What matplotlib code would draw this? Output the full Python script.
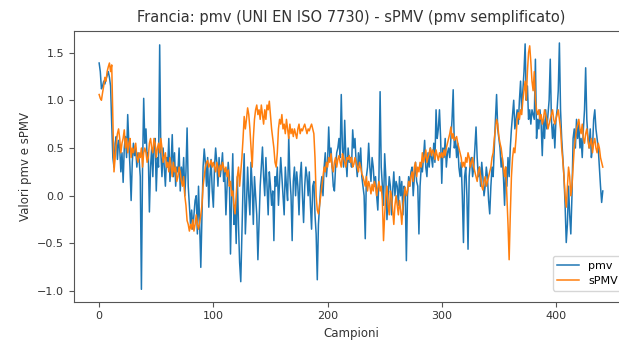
import numpy as np
import matplotlib
matplotlib.use("Agg")
import matplotlib.pyplot as plt

# ------------------------------------------
# Data
# ------------------------------------------
pmv = [
    1.39, 1.3, 1.12, 1.15, 1.2, 1.17, 1.22, 1.26, 1.3, 1.24, 1.15, 0.75, 0.4, 0.3, 0.55, 0.62, 0.38, 0.58, 0.5, 0.25,
    0.45, 0.14, 0.5, 0.62, 0.4, 0.85, 0.55, 0.3, -0.05, 0.35, 0.55, 0.42, 0.5, 0.3, 0.45, 0.38, 0.2, -0.98, 0.3, 1.02,
    0.55, 0.7, 0.4, 0.45, -0.17, 0.3, 0.5, 0.2, 0.55, 0.6, 0.05, 0.4, 0.3, 1.58, 0.45, 0.2, 0.5, 0.3, 0.1, 0.4,
    0.3, 0.6, 0.15, 0.35, 0.64, 0.2, 0.45, 0.1, 0.3, 0.25, 0.5, 0.05, 0.3, 0.15, 0.4, 0.0, 0.25, 0.71, 0.1, -0.1,
    -0.3, -0.15, -0.35, -0.2, -0.05, 0.0, -0.4, 0.1, -0.3, -0.75, -0.2, 0.3, 0.49, 0.35, 0.1, 0.4, -0.12, 0.2, 0.38, 0.05,
    -0.12, 0.3, 0.5, 0.35, 0.1, 0.4, 0.2, 0.3, 0.45, 0.15, 0.25, -0.2, 0.1, 0.35, 0.2, -0.61, 0.0, 0.44, -0.3, -0.1,
    -0.5, 0.2, -0.3, -0.7, -0.9, -0.4, 0.1, 0.44, -0.4, -0.1, 0.3, 0.0, -0.2, 0.35, 0.1, -0.3, 0.2, 0.0, -0.2, -0.67,
    -0.3, 0.1, 0.3, 0.51, 0.2, 0.0, 0.4, 0.1, -0.2, 0.25, 0.1, -0.1, 0.05, -0.47, 0.2, 0.1, 0.3, -0.1, 0.15, 0.4,
    0.2, 0.0, -0.2, 0.3, 0.1, -0.05, 0.62, 0.2, 0.0, -0.47, 0.15, 0.3, 0.0, 0.25, 0.1, -0.2, 0.2, 0.35, 0.0, -0.28,
    0.1, 0.3, 0.2, 0.0, 0.25, -0.1, -0.35, 0.1, 0.15, -0.2, -0.4, -0.88, -0.3, -0.1, 0.1, 0.2, 0.0, 0.3, 0.45, 0.2,
    0.35, 0.72, 0.4, 0.5, 0.3, 0.1, 0.05, 0.3, 0.45, 0.5, 0.6, 0.4, 1.06, 0.5, 0.3, 0.79, 0.4, 0.2, 0.5, 0.35,
    0.4, 0.3, 0.69, 0.5, 0.6, 0.35, 0.2, 0.45, 0.3, 0.5, 0.2, 0.1, 0.0, -0.45, 0.2, 0.3, 0.55, 0.3, 0.15, 0.4,
    0.3, 0.1, 0.2, 0.0, -0.15, 0.2, 1.09, 0.3, 0.1, -0.1, 0.44, 0.2, -0.25, 0.0, 0.2, 0.1, -0.2, 0.05, 0.25, 0.0,
    0.15, 0.1, -0.1, 0.2, 0.0, 0.15, -0.2, 0.1, 0.05, -0.68, 0.0, 0.2, 0.1, 0.25, 0.3, 0.0, 0.2, 0.35, 0.15, 0.1,
    -0.4, 0.1, 0.3, 0.25, 0.4, 0.58, 0.3, 0.2, 0.45, 0.3, 0.5, 0.4, 0.3, 0.55, 0.35, 0.9, 0.6, 0.7, 0.9, 0.6,
    0.13, 0.5, 0.4, 0.6, 0.3, 0.45, 0.5, 0.4, 0.6, 0.8, 1.11, 0.5, 0.6, 0.4, 0.55, 0.3, 0.2, 0.35, 0.0, -0.49,
    0.2, 0.3, 0.0, -0.56, 0.2, 0.35, 0.4, 0.2, 0.3, 0.5, 0.72, 0.4, 0.2, 0.3, 0.1, 0.35, 0.2, 0.0, 0.1, 0.3,
    0.2, -0.05, -0.19, 0.1, 0.3, 0.2, 0.5, 0.8, 1.06, 0.7, 0.6, 0.5, 0.3, 0.4, 0.2, -0.1, 0.3, 0.1, 0.4, 0.2,
    0.5, 0.7, 0.85, 1.0, 0.7, 0.8, 0.9, 0.75, 1.0, 1.2, 0.9, 1.1, 1.3, 1.59, 1.0, 1.15, 0.8, 0.9, 0.75, 0.9,
    0.85, 0.8, 1.43, 0.6, 0.8, 0.7, 0.9, 0.75, 0.42, 0.8, 0.6, 0.9, 0.7, 0.85, 1.0, 1.43, 0.8, 0.6, 0.75, 0.5,
    0.8, 0.9, 1.1, 1.6, 0.9, 0.6, 0.4, 0.2, -0.1, -0.49, -0.3, 0.1, -0.2, -0.4, 0.0, 0.6, 0.7, 0.5, 0.8, 0.6,
    0.75, 0.5, 0.6, 0.4, 0.7, 0.9, 1.34, 0.8, 0.6, 0.5, 0.7, 0.4, 0.5, 0.8, 0.9, 0.7, 0.6, 0.5, 0.3, 0.1, -0.07, 0.05,
]

spmv = [
    1.06, 1.02, 1.0, 1.08, 1.15, 1.24, 1.2, 1.3, 1.35, 1.39, 1.3, 1.37, 0.8, 0.25, 0.4, 0.55, 0.65, 0.7, 0.6, 0.45,
    0.55, 0.6, 0.69, 0.5, 0.6, 0.45, 0.55, 0.6, 0.4, 0.5, 0.45, 0.5, 0.55, 0.4, 0.35, 0.45, 0.4, 0.5, 0.3, 0.45,
    0.5, 0.45, 0.35, 0.4, 0.55, 0.6, 0.5, 0.45, 0.6, 0.55, 0.4, 0.5, 0.55, 0.45, 0.6, 0.5, 0.35, 0.4, 0.45, 0.3,
    0.35, 0.25, 0.4, 0.3, 0.2, 0.35, 0.25, 0.3, 0.15, 0.2, 0.3, 0.25, 0.15, 0.1, 0.2, 0.0, -0.1, -0.26, -0.3, -0.37,
    -0.3, -0.35, -0.25, -0.37, -0.3, -0.2, -0.3, -0.35, -0.28, -0.2, -0.1, 0.1, 0.2, 0.3, 0.35, 0.37, 0.3, 0.33, 0.37, 0.3,
    0.35, 0.3, 0.25, 0.35, 0.3, 0.2, 0.32, 0.27, 0.35, 0.3, 0.25, 0.3, 0.2, 0.27, 0.1, 0.15, 0.0, 0.05, -0.1, -0.19,
    0.0, 0.2, 0.3, 0.1, 0.25, 0.4, 0.6, 0.83, 0.7, 0.8, 0.92, 0.85, 0.7, 0.5, 0.3, 0.6, 0.8, 0.9, 0.95, 0.85,
    0.9, 0.8, 0.95, 0.85, 0.75, 0.9, 0.8, 0.95, 0.9, 0.99, 0.85, 0.7, 0.6, 0.5, 0.35, 0.3, 0.45, 0.7, 0.8, 0.75,
    0.85, 0.7, 0.75, 0.65, 0.8, 0.7, 0.6, 0.75, 0.65, 0.7, 0.62, 0.7, 0.65, 0.6, 0.7, 0.75, 0.65, 0.7, 0.68, 0.72,
    0.75, 0.7, 0.65, 0.7, 0.68, 0.72, 0.75, 0.7, 0.65, 0.4, 0.0, -0.15, -0.19, -0.1, 0.0, 0.1, 0.2, 0.3, 0.25, 0.35,
    0.3, 0.4, 0.35, 0.44, 0.3, 0.25, 0.35, 0.4, 0.3, 0.38, 0.42, 0.35, 0.3, 0.44, 0.4, 0.35, 0.3, 0.4, 0.38, 0.42,
    0.35, 0.4, 0.3, 0.33, 0.4, 0.35, 0.3, 0.25, 0.35, 0.3, 0.23, 0.2, 0.15, 0.1, 0.2, 0.05, 0.15, 0.1, 0.02, 0.12,
    0.05, 0.15, 0.1, 0.0, 0.08, 0.15, 0.05, 0.1, -0.05, -0.47, -0.2, 0.0, 0.1, -0.1, -0.2, 0.05, 0.0, -0.15, -0.3, -0.1,
    0.0, -0.1, -0.2, -0.05, -0.15, -0.3, -0.1, 0.0, 0.09, 0.0, 0.05, 0.15, 0.1, 0.2, 0.25, 0.15, 0.3, 0.35, 0.2, 0.3,
    0.25, 0.35, 0.3, 0.45, 0.35, 0.4, 0.48, 0.35, 0.4, 0.45, 0.5, 0.42, 0.48, 0.45, 0.38, 0.48, 0.42, 0.37, 0.45, 0.4,
    0.45, 0.4, 0.48, 0.42, 0.5, 0.55, 0.6, 0.65, 0.72, 0.6, 0.65, 0.58, 0.6, 0.62, 0.55, 0.5, 0.45, 0.4, 0.3, 0.35,
    0.3, 0.4, 0.35, 0.45, 0.4, 0.3, 0.35, 0.4, 0.3, 0.25, 0.2, 0.15, 0.25, 0.3, 0.2, 0.1, 0.06, 0.15, 0.2, 0.1,
    0.15, 0.2, 0.25, 0.3, 0.4, 0.45, 0.6, 0.7, 0.8, 0.75, 0.62, 0.55, 0.5, 0.4, 0.3, 0.2, 0.3, 0.0, -0.3, -0.67,
    -0.2, 0.2, 0.4, 0.5, 0.45, 0.6, 0.8, 0.87, 0.8, 0.9, 0.85, 1.0, 1.1, 1.2, 1.0, 1.3, 1.5, 1.57, 1.4, 1.2,
    1.1, 1.3, 1.0, 0.9, 0.85, 0.9, 0.8, 0.85, 0.75, 0.8, 0.9, 0.85, 0.8, 0.7, 0.75, 0.8, 0.85, 0.9, 0.8, 0.75,
    0.8, 0.85, 0.9, 0.8, 0.7, 0.5, 0.37, 0.2, 0.0, -0.12, 0.1, 0.3, 0.2, 0.0, 0.1, 0.3, 0.5, 0.6, 0.7, 0.75,
    0.8, 0.7, 0.65, 0.75, 0.6, 0.55, 0.65, 0.7, 0.6, 0.5, 0.55, 0.6, 0.45, 0.55, 0.6, 0.5, 0.45, 0.55, 0.5, 0.4, 0.35, 0.3,
]

campioni = np.arange(len(pmv))

# ------------------------------------------
# Plot
# ------------------------------------------
fig = plt.figure(figsize=(6.19, 3.42), dpi=100)
# the reference is cropped on the right, so the axes run past the figure edge
ax = fig.add_axes([0.1195, 0.118, 0.895, 0.7924])

ax.plot(campioni, pmv, color="#1f77b4", linewidth=1.1, label="pmv")
ax.plot(campioni, spmv, color="#ff7f0e", linewidth=1.1, label="sPMV")

ax.set_title("Francia: pmv (UNI EN ISO 7730) - sPMV (pmv semplificato)", fontsize=10.5, color="#333333")
ax.set_xlabel("Campioni", fontsize=8.5, color="#333333")
ax.set_ylabel("Valori pmv e sPMV", fontsize=8.5, color="#333333")
ax.tick_params(labelsize=8, labelcolor="#333333", color="#555555")
for sp in ax.spines.values():
    sp.set_color("#555555")
ax.set_yticks([-1.0, -0.5, 0.0, 0.5, 1.0, 1.5])
ax.set_xticks([0, 100, 200, 300, 400])
ax.legend(loc="lower right", fontsize=8, bbox_to_anchor=(1.0, 0.02))

fig.savefig("out.png", dpi=100)
